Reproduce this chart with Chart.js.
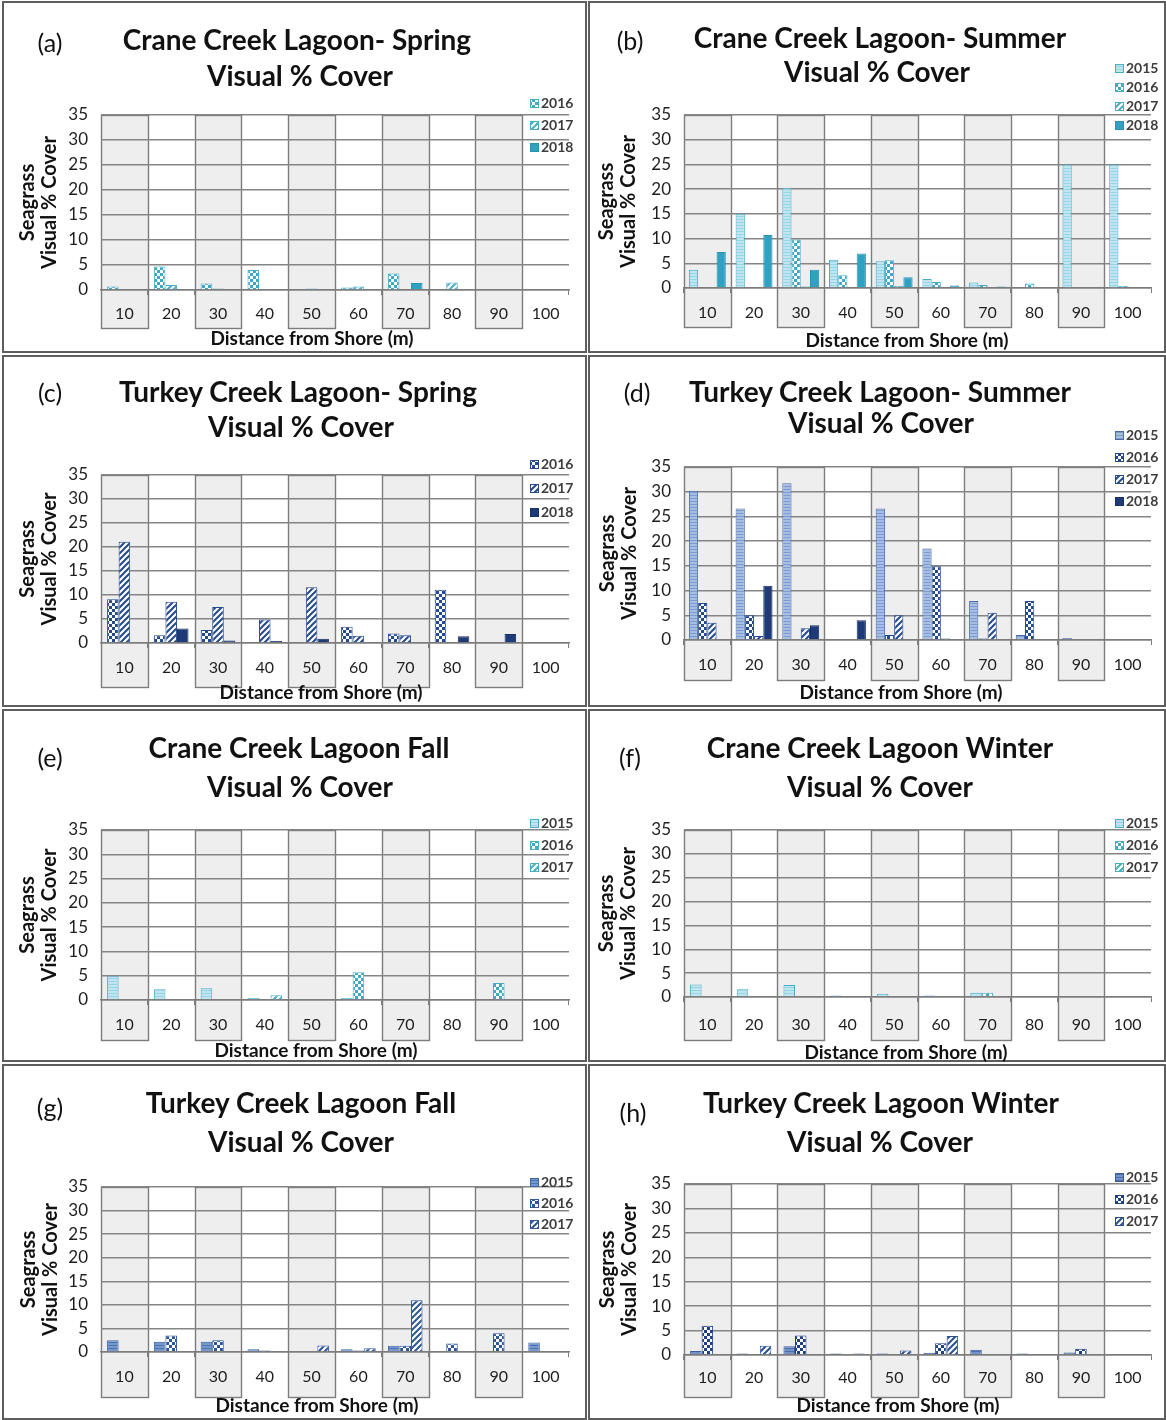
<!DOCTYPE html>
<html lang="en">
<head>
<meta charset="utf-8">
<title>Seagrass Visual % Cover</title>
<script src="https://cdn.jsdelivr.net/npm/chart.js@4.4.1/dist/chart.umd.min.js"></script>
<style>
  html,body{margin:0;padding:0;background:#fff;}
  body{position:relative;width:1166px;height:1420px;overflow:hidden;font-family:Lato,"Open Sans",sans-serif;color:#111;}
  .frame{position:absolute;box-sizing:border-box;border:2px solid #5e5e5e;}
  .cv{position:absolute;}
  .txt{position:absolute;white-space:nowrap;transform:translate(-50%,-50%);line-height:1.2;}
  .tag{font-size:25px;font-weight:400;}
  .head{font-size:28px;font-weight:700;}
  .xcap{font-size:19px;font-weight:700;}
</style>
</head>
<body>
<script>
// Distance classes along each transect and the cover ticks
const distances = ['10','20','30','40','50','60','70','80','90','100'];
const coverTicks = [0, 5, 10, 15, 20, 25, 30, 35];

// (a) Crane Creek Lagoon - Spring
const craneSpring2016 = [0.7, 4.7, 1.3, 4.0, 0, 0.5, 3.3, 0, 0, 0];
const craneSpring2017 = [0, 1.0, 0.3, 0, 0.3, 0.7, 0, 1.5, 0, 0];
const craneSpring2018 = [0, 0, 0, 0, 0, 0, 1.4, 0, 0, 0];

// (b) Crane Creek Lagoon - Summer
const craneSummer2015 = [3.7, 15.0, 20.3, 5.7, 5.4, 1.8, 1.1, 0, 25.0, 25.0];
const craneSummer2016 = [0, 0, 9.8, 2.6, 5.6, 1.2, 0.6, 0.9, 0, 0.4];
const craneSummer2017 = [0, 0, 0.3, 0, 0.4, 0, 0, 0, 0, 0];
const craneSummer2018 = [7.3, 10.7, 3.7, 7.0, 2.2, 0.5, 0.3, 0, 0, 0.2];

// (c) Turkey Creek Lagoon - Spring
const turkeySpring2016 = [9.1, 1.6, 2.7, 0, 0, 3.4, 2.0, 11.1, 0, 0];
const turkeySpring2017 = [21.1, 8.6, 7.5, 4.9, 11.6, 1.5, 1.6, 0, 0, 0];
const turkeySpring2018 = [0, 3.0, 0.5, 0.4, 0.9, 0, 0, 1.4, 1.9, 0];

// (d) Turkey Creek Lagoon - Summer
const turkeySummer2015 = [30.2, 26.6, 31.7, 0, 26.6, 18.5, 7.9, 1.0, 0.4, 0];
const turkeySummer2016 = [7.5, 5.0, 0, 0, 1.0, 14.9, 0.3, 7.9, 0, 0];
const turkeySummer2017 = [3.5, 0.8, 2.4, 0, 5.0, 0.3, 5.5, 0, 0, 0];
const turkeySummer2018 = [0, 11.0, 3.0, 4.0, 0, 0, 0, 0, 0, 0];

// (e) Crane Creek Lagoon - Fall
const craneFall2015 = [4.9, 2.2, 2.4, 0.4, 0.2, 0.4, 0, 0, 0, 0];
const craneFall2016 = [0, 0, 0, 0, 0, 5.7, 0, 0, 3.5, 0];
const craneFall2017 = [0, 0, 0, 1.0, 0, 0, 0, 0, 0, 0];

// (f) Crane Creek Lagoon - Winter
const craneWinter2015 = [2.6, 1.6, 2.5, 0.3, 0.7, 0.3, 0.9, 0, 0, 0];
const craneWinter2016 = [0, 0, 0, 0, 0, 0, 0.9, 0, 0, 0];
const craneWinter2017 = [0, 0, 0, 0, 0, 0, 0, 0, 0, 0];

// (g) Turkey Creek Lagoon - Fall
const turkeyFall2015 = [2.5, 2.2, 2.2, 0.6, 0, 0.6, 1.3, 0, 0, 2.0];
const turkeyFall2016 = [0, 3.5, 2.5, 0.3, 0, 0.3, 1.3, 1.8, 4.0, 0];
const turkeyFall2017 = [0, 0, 0, 0, 1.4, 0.8, 11.0, 0, 0, 0];

// (h) Turkey Creek Lagoon - Winter
const turkeyWinter2015 = [0.8, 0.3, 1.8, 0.3, 0.3, 0.4, 1.1, 0.3, 0.5, 0];
const turkeyWinter2016 = [6.0, 0, 4.0, 0, 0, 2.4, 0, 0, 1.3, 0];
const turkeyWinter2017 = [0, 1.9, 0, 0.3, 0.9, 3.9, 0, 0, 0, 0];

// ---------- fill patterns ----------
function patternOf(size, paint) {
  const c = document.createElement('canvas');
  c.width = c.height = size;
  const g = c.getContext('2d');
  paint(g, size);
  return g.createPattern(c, 'repeat');
}
const checker = (fg, bg, s = 3) => patternOf(s * 2, (g, n) => {
  g.fillStyle = bg; g.fillRect(0, 0, n, n);
  g.fillStyle = fg; g.fillRect(0, 0, s, s); g.fillRect(s, s, s, s);
});
const hatch = (fg, bg, n = 6, w = 2) => patternOf(n, (g) => {
  g.fillStyle = bg; g.fillRect(0, 0, n, n);
  g.strokeStyle = fg; g.lineWidth = w; g.beginPath();
  g.moveTo(-1, n + 1); g.lineTo(n + 1, -1);
  g.moveTo(-1, 1); g.lineTo(1, -1);
  g.moveTo(n - 1, n + 1); g.lineTo(n + 1, n - 1);
  g.stroke();
});
const lined = (fg, bg, n = 3) => patternOf(n, (g) => {
  g.fillStyle = bg; g.fillRect(0, 0, n, n);
  g.fillStyle = fg; g.fillRect(0, 0, n, 1);
});

const craneStyle = {
  '2015': { fill: lined('#96d4e6', '#bfe5f0'), edge: '#4bacc6' },
  '2016': { fill: checker('#3fa8c5', '#ffffff'), edge: '#4bacc6' },
  '2017': { fill: hatch('#4bacc6', '#ffffff'), edge: '#4bacc6' },
  '2018': { fill: '#31a1c3', edge: '#2a91b1' }
};
const turkeyWarmStyle = {
  '2015': { fill: lined('#7d9bd0', '#a7bee3'), edge: '#4a6ca8' },
  '2016': { fill: checker('#24498f', '#ffffff'), edge: '#24498f' },
  '2017': { fill: hatch('#24498f', '#ffffff'), edge: '#24498f' },
  '2018': { fill: '#1e3b78', edge: '#172f61' }
};
const turkeyFallStyle = {
  '2015': { fill: lined('#4a74b4', '#7898cd'), edge: '#3c64a2' },
  '2016': { fill: checker('#2d5699', '#ffffff'), edge: '#2d5699' },
  '2017': { fill: hatch('#2d5699', '#ffffff'), edge: '#2d5699' }
};
const turkeyWinterStyle = {
  '2015': { fill: lined('#4a6fae', '#7592c8'), edge: '#3a5d9a' },
  '2016': { fill: checker('#1f3f85', '#ffffff'), edge: '#1f3f85' },
  '2017': { fill: hatch('#2b4f93', '#ffffff'), edge: '#2b4f93' }
};

// ---------- panels ----------
// frame: [x0,y0,x1,y1]; area: [left,right,top,bottom]; key: [x,y,dy]
const panels = [
  { tag: '(a)', tagAt: [50, 42], title: ['Crane Creek Lagoon- Spring', 'Visual % Cover'], titleAt: [[297, 40], [300, 76]],
    style: craneStyle, series: [['2016', craneSpring2016], ['2017', craneSpring2017], ['2018', craneSpring2018]],
    frame: [2, 1, 587, 353], area: [101, 569, 115, 290], yCap: 28, xCapAt: [312, 338], depth: 38, lbl: 24, key: [530, 103, 22] },
  { tag: '(b)', tagAt: [630, 40], title: ['Crane Creek Lagoon- Summer', 'Visual % Cover'], titleAt: [[880, 38], [877, 72]],
    style: craneStyle, series: [['2015', craneSummer2015], ['2016', craneSummer2016], ['2017', craneSummer2017], ['2018', craneSummer2018]],
    frame: [588, 1, 1166, 353], area: [684, 1151, 115, 288], yCap: 607, xCapAt: [907, 340], depth: 39, lbl: 25, key: [1115, 68, 19] },
  { tag: '(c)', tagAt: [50, 392], title: ['Turkey Creek Lagoon- Spring', 'Visual % Cover'], titleAt: [[298, 392], [301, 427]],
    style: turkeyWarmStyle, series: [['2016', turkeySpring2016], ['2017', turkeySpring2017], ['2018', turkeySpring2018]],
    frame: [2, 355, 587, 707], area: [101, 569, 475, 643], yCap: 28, xCapAt: [321, 692], depth: 44, lbl: 25, key: [530, 464, 24] },
  { tag: '(d)', tagAt: [637, 392], title: ['Turkey Creek Lagoon- Summer', 'Visual % Cover'], titleAt: [[880, 392], [881, 423]],
    style: turkeyWarmStyle, series: [['2015', turkeySummer2015], ['2016', turkeySummer2016], ['2017', turkeySummer2017], ['2018', turkeySummer2018]],
    frame: [588, 355, 1166, 707], area: [684, 1151, 467, 640], yCap: 608, xCapAt: [901, 692], depth: 40, lbl: 25, key: [1115, 435, 22] },
  { tag: '(e)', tagAt: [50, 757], title: ['Crane Creek Lagoon Fall', 'Visual % Cover'], titleAt: [[299, 748], [300, 787]],
    style: craneStyle, series: [['2015', craneFall2015], ['2016', craneFall2016], ['2017', craneFall2017]],
    frame: [2, 709, 587, 1062], area: [101, 569, 830, 1000], yCap: 28, xCapAt: [316, 1050], depth: 40, lbl: 25, key: [530, 823, 22] },
  { tag: '(f)', tagAt: [630, 757], title: ['Crane Creek Lagoon Winter', 'Visual % Cover'], titleAt: [[880, 748], [880, 787]],
    style: craneStyle, series: [['2015', craneWinter2015], ['2016', craneWinter2016], ['2017', craneWinter2017]],
    frame: [588, 709, 1166, 1062], area: [684, 1151, 830, 997], yCap: 607, xCapAt: [906, 1052], depth: 43, lbl: 28, key: [1115, 823, 22] },
  { tag: '(g)', tagAt: [50, 1107], title: ['Turkey Creek Lagoon Fall', 'Visual % Cover'], titleAt: [[301, 1103], [301, 1142]],
    style: turkeyFallStyle, series: [['2015', turkeyFall2015], ['2016', turkeyFall2016], ['2017', turkeyFall2017]],
    frame: [2, 1064, 587, 1420], area: [101, 569, 1187, 1352], yCap: 29, xCapAt: [317, 1405], depth: 45, lbl: 25, key: [530, 1182, 21] },
  { tag: '(h)', tagAt: [633, 1112], title: ['Turkey Creek Lagoon Winter', 'Visual % Cover'], titleAt: [[881, 1103], [880, 1142]],
    style: turkeyWinterStyle, series: [['2015', turkeyWinter2015], ['2016', turkeyWinter2016], ['2017', turkeyWinter2017]],
    frame: [588, 1064, 1166, 1420], area: [684, 1151, 1184, 1355], yCap: 608, xCapAt: [898, 1405], depth: 42, lbl: 23, key: [1115, 1177, 22] }
];

// ---------- plugins ----------
// grey boxes behind every other distance class, reaching down around the label
const bandPlugin = {
  id: 'bands',
  beforeDraw(chart, args, opts) {
    const { ctx, chartArea } = chart;
    const x = chart.scales.x;
    const half = (x.getPixelForValue(1) - x.getPixelForValue(0)) / 2;
    ctx.save();
    ctx.lineWidth = 1.4;
    ctx.strokeStyle = '#7c7c7c';
    ctx.fillStyle = '#eeeeee';
    for (let i = 0; i < chart.data.labels.length; i += 2) {
      const c = x.getPixelForValue(i);
      const l = Math.round(c - half) + 0.5, r = Math.round(c + half) + 0.5;
      const t = Math.round(chartArea.top) + 0.5, b = Math.round(chartArea.bottom + opts.depth) + 0.5;
      ctx.fillRect(l, t, r - l, b - t);
      ctx.strokeRect(l, t, r - l, b - t);
    }
    ctx.restore();
  }
};

// compact series key in the upper right corner
const keyPlugin = {
  id: 'key',
  afterDraw(chart, args, o) {
    const ctx = chart.ctx;
    ctx.save();
    ctx.font = 'bold 14px Lato, sans-serif';
    ctx.textBaseline = 'middle';
    chart.data.datasets.forEach((ds, i) => {
      const y = o.y + i * o.dy;
      ctx.fillStyle = ds.backgroundColor;
      ctx.fillRect(o.x, Math.round(y - 4.5), 9, 9);
      ctx.strokeStyle = ds.borderColor;
      ctx.lineWidth = 1;
      ctx.strokeRect(o.x + 0.5, Math.round(y - 4.5) + 0.5, 8, 8);
      ctx.fillStyle = '#3c3c3c';
      ctx.fillText(ds.label, o.x + 11, y + 0.5);
    });
    ctx.restore();
  }
};

function addText(cls, text, x, y) {
  const d = document.createElement('div');
  d.className = 'txt ' + cls;
  d.textContent = text;
  d.style.left = x + 'px';
  d.style.top = y + 'px';
  document.body.appendChild(d);
}

const Y_LH = 22;
const X_BOX = 50;

panels.forEach(p => {
  const [fx0, fy0, fx1, fy1] = p.frame;
  const fr = document.createElement('div');
  fr.className = 'frame';
  fr.style.left = fx0 + 'px'; fr.style.top = fy0 + 'px';
  fr.style.width = (fx1 - fx0) + 'px'; fr.style.height = (fy1 - fy0) + 'px';
  document.body.appendChild(fr);

  const cx = fx0 + 2, cy = fy0 + 2, cw = fx1 - fx0 - 4, ch = fy1 - fy0 + 8;
  const cv = document.createElement('canvas');
  cv.className = 'cv';
  cv.width = cw; cv.height = ch;
  cv.style.left = cx + 'px'; cv.style.top = cy + 'px';
  cv.style.width = cw + 'px'; cv.style.height = ch + 'px';
  document.body.appendChild(cv);

  const [L, R, T, B] = p.area;
  const yBoxLeft = p.yCap - Y_LH / 2;
  const yWidth = L - yBoxLeft;
  const n = p.series.length;

  new Chart(cv, {
    type: 'bar',
    data: {
      labels: distances,
      datasets: p.series.map(([year, values]) => ({
        label: year,
        data: values,
        backgroundColor: p.style[year].fill,
        borderColor: p.style[year].edge,
        borderWidth: 1,
        categoryPercentage: n === 4 ? 0.79 : 0.74,
        barPercentage: 1.0
      }))
    },
    plugins: [bandPlugin, keyPlugin],
    options: {
      responsive: false,
      animation: false,
      devicePixelRatio: 1,
      layout: { padding: { left: yBoxLeft - cx, top: T - cy, right: cx + cw - R, bottom: cy + ch - (B + X_BOX) } },
      plugins: {
        legend: { display: false },
        tooltip: { enabled: false },
        bands: { depth: p.depth },
        key: { x: p.key[0] - cx, y: p.key[1] - cy, dy: p.key[2] }
      },
      scales: {
        x: {
          grid: { display: true, drawOnChartArea: false, drawTicks: true, tickLength: 5, color: '#7c7c7c', offset: true },
          border: { display: true, color: '#7c7c7c', width: 1.4 },
          ticks: { font: { family: 'Lato', size: 16 }, color: '#1e1e1e', padding: p.lbl - 5 - 9.6, maxRotation: 0, autoSkip: false },
          afterFit: s => { s.height = X_BOX; }
        },
        y: {
          min: 0, max: 35,
          afterBuildTicks: s => { s.ticks = coverTicks.map(v => ({ value: v })); },
          grid: { color: '#858585', lineWidth: 1.4, drawTicks: false },
          border: { display: false },
          ticks: { font: { family: 'Lato', size: 17 }, color: '#1e1e1e', padding: 13 },
          title: {
            display: true,
            text: ['Seagrass', 'Visual % Cover'],
            font: { family: 'Lato', size: 20, weight: 'bold', lineHeight: Y_LH / 20 },
            color: '#111',
            padding: 0
          },
          afterFit: s => { s.width = yWidth; }
        }
      }
    }
  });

  addText('tag', p.tag, p.tagAt[0], p.tagAt[1]);
  addText('head', p.title[0], p.titleAt[0][0], p.titleAt[0][1]);
  addText('head', p.title[1], p.titleAt[1][0], p.titleAt[1][1]);
  addText('xcap', 'Distance from Shore (m)', p.xCapAt[0], p.xCapAt[1]);
});
</script>
</body>
</html>
